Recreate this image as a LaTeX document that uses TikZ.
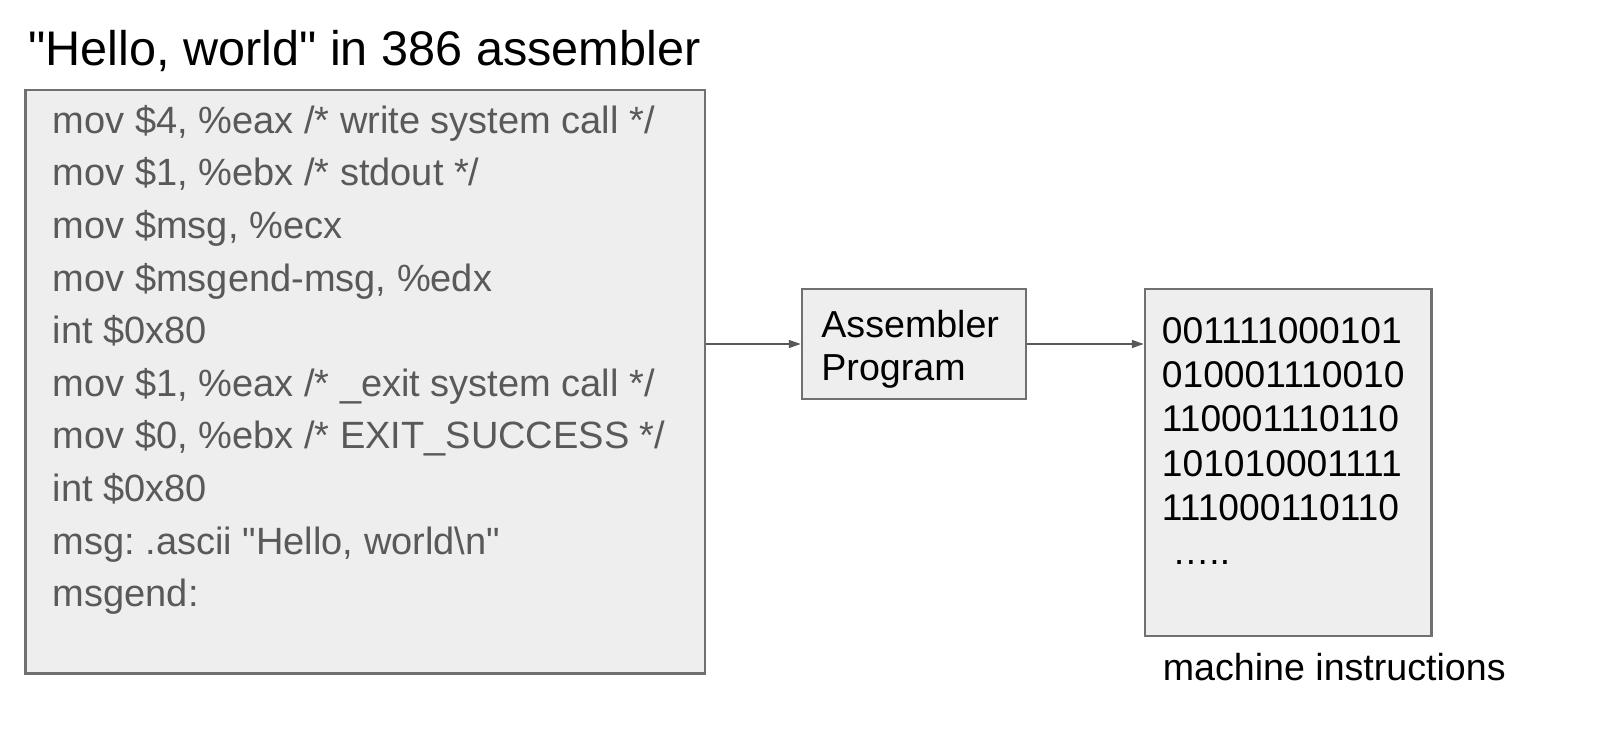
\documentclass[tikz,border=0pt]{standalone}
\usepackage{fontspec}
\setmainfont{Liberation Sans}[Ligatures=TeXOff]
\usetikzlibrary{arrows.meta,positioning}
\frenchspacing
\definecolor{boxfill}{HTML}{EEEEEE}
\definecolor{boxline}{HTML}{707070}
\definecolor{codegray}{HTML}{595959}
\tikzstyle{block}=[draw=boxline,line width=1.25pt,fill=boxfill,inner sep=0pt]
\tikzstyle{flow}=[draw=codegray,line width=0.75pt,-{Triangle[length=6pt,width=4pt]}]
\tikzstyle{codeline}=[anchor=base west,inner sep=0pt,text=codegray,font=\fontsize{19}{19}\selectfont]
\tikzstyle{bitline}=[anchor=base west,inner sep=0pt,font=\fontsize{18.6}{18.6}\selectfont]
\tikzstyle{plaintext}=[anchor=base west,inner sep=0pt,font=\fontsize{18.8}{18.8}\selectfont]
\tikzstyle{titletext}=[anchor=base west,inner sep=0pt,font=\fontsize{24.3}{24.3}\selectfont]

\begin{document}
\begin{tikzpicture}[x=0.5pt,y=-0.5pt]
    \useasboundingbox (0,0) rectangle (1598,738);
    % First we draw the three boxes
    \node[block,minimum width=339.75pt,minimum height=291.7pt] (source) at (365.25,381.6) {};
    \node[block,minimum width=112pt,minimum height=55pt] (prog) at (914,344) {};
    \node[block,minimum width=143.25pt,minimum height=173.5pt] (bin) at (1288.25,462.5) {};
    % Title and caption
    \node[titletext] (title) at (28,65.3) {"Hello, world" in 386 assembler};
    \node[plaintext] (note) at (1162.5,680) {machine instructions};
    % The assembler source, one line at a time
    \foreach \txt [count=\i] in {{mov \$4, \%eax /* write system call */},
        {mov \$1, \%ebx /* stdout */}, {mov \$msg, \%ecx},
        {mov \$msgend-msg, \%edx}, {int \$0x80},
        {mov \$1, \%eax /* \_exit system call */},
        {mov \$0, \%ebx /* EXIT\_SUCCESS */}, {int \$0x80},
        {msg: .ascii "Hello, world\textbackslash n"}, {msgend:}}
        \node[codeline] (line\i) at (52.5,{133.3+52.6*(\i-1)}) {\txt};
    % Text of the assembler program box
    \foreach \pos/\name/\txt in {{(821,337.3)/prog1/Assembler}, {(821,380)/prog2/Program}}
        \node[plaintext] (\name) at \pos {\txt};
    % The machine instructions
    \foreach \txt [count=\i] in {001111000101, 010001110010, 110001110110,
        101010001111, 111000110110, {\ …..}}
        \node[bitline] (bits\i) at (1161.5,{343.3+44.3*(\i-1)}) {\txt};
    % Connect boxes with arrows
    \path[flow] (source.east |- prog.west) -- (prog.west);
    \path[flow] (prog.east) -- (prog.east -| bin.west);
\end{tikzpicture}
\end{document}
